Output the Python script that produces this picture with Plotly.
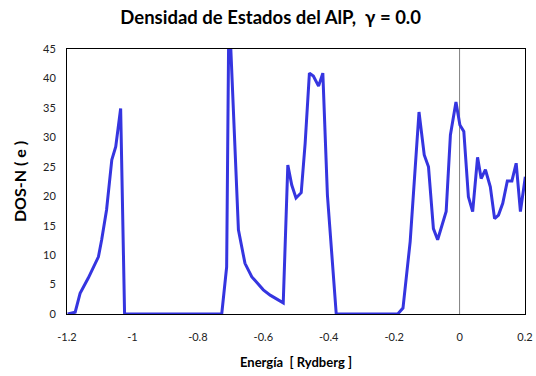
import plotly.graph_objects as go

energia = [-1.198, -1.175, -1.16, -1.135, -1.104, -1.094, -1.079, -1.063, -1.051, -1.036, -1.024,
           -0.727, -0.712, -0.706, -0.700, -0.676, -0.656, -0.635, -0.600, -0.579, -0.539,
           -0.525, -0.513, -0.500, -0.484, -0.472, -0.459, -0.447, -0.431, -0.418, -0.404, -0.377,
           -0.189, -0.173, -0.151, -0.136, -0.124, -0.108, -0.095, -0.080, -0.067, -0.041,
           -0.028, -0.011, 0.001, 0.013, 0.027, 0.040, 0.055, 0.066, 0.079, 0.094, 0.107,
           0.119, 0.132, 0.146, 0.160, 0.173, 0.186, 0.201]
dos = [0.0, 0.3, 3.5, 6.1, 9.7, 12.6, 17.7, 26.2, 28.4, 34.9, 0.0,
       0.0, 8.0, 46.0, 46.0, 14.3, 8.6, 6.3, 4.1, 3.2, 1.9,
       25.3, 21.9, 19.7, 20.6, 29.0, 40.9, 40.4, 38.7, 40.9, 20.2, 0.0,
       0.0, 1.0, 12.3, 25.0, 34.3, 27.0, 25.0, 14.5, 12.6, 17.4,
       30.4, 36.0, 32.1, 31.0, 19.9, 17.4, 26.6, 23.0, 24.5, 21.6, 16.2,
       16.8, 18.8, 22.6, 22.6, 25.6, 17.4, 23.3]

x_ticks = [-1.2, -1.0, -0.8, -0.6, -0.4, -0.2, 0.0, 0.2]
x_tick_labels = ["-1.2", "-1", "-0.8", "-0.6", "-0.4", "-0.2", "0", "0.2"]
y_ticks = [0, 5, 10, 15, 20, 25, 30, 35, 40, 45]

fig = go.Figure()
fig.add_trace(go.Scatter(x=energia, y=dos, mode="lines",
                         line=dict(color="#3535E0", width=3), showlegend=False))

fig.add_shape(type="line", x0=0, x1=0, y0=0, y1=45, xref="x", yref="y",
              line=dict(color="#808080", width=1), layer="below")

font_fam = "Lato, 'Open Sans', sans-serif"
fig.update_layout(
    width=536, height=376,
    margin=dict(l=67, r=11, t=49, b=62, autoexpand=False),
    paper_bgcolor="white", plot_bgcolor="white",
    title=dict(text="<b>Densidad de Estados del AlP,  γ = 0.0</b>",
               x=0.505, xanchor="center", y=0.953, yanchor="middle",
               font=dict(family=font_fam, size=18.5, color="black")),
    xaxis=dict(range=[-1.2, 0.2], tickvals=x_ticks, ticktext=x_tick_labels,
               showgrid=False, zeroline=False, showline=True, linecolor="black",
               linewidth=1, mirror=True, ticks="", ticklabelstandoff=13,
               automargin=False,
               tickfont=dict(family=font_fam, size=11, color="#222"),
               title=dict(text="<b>Energía  [ Rydberg ]</b>", standoff=15,
                          font=dict(family=font_fam, size=13, color="black"))),
    yaxis=dict(range=[0, 45], tickvals=y_ticks,
               showgrid=False, zeroline=False, showline=True, linecolor="black",
               linewidth=1, mirror=True, ticks="", ticklabelstandoff=8,
               automargin=False,
               tickfont=dict(family=font_fam, size=11, color="#222"),
               title=dict(text="<b>DOS-N ( e )</b>", standoff=12,
                          font=dict(family=font_fam, size=16, color="black"))),
)

fig.write_html("out.html")
